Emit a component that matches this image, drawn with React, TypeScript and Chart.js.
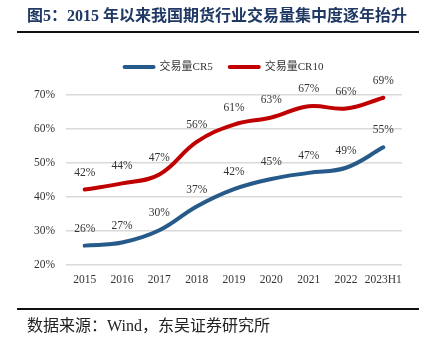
import React, { useEffect, useRef } from "react";
import { Chart, registerables } from "chart.js";

Chart.register(...registerables);

const categories = ["2015", "2016", "2017", "2018", "2019", "2020", "2021", "2022", "2023H1"];
const cr5Values = [25.7, 26.6, 30.2, 37.2, 42.3, 45.3, 47.1, 48.6, 54.6];
const cr10Values = [42.2, 44.0, 46.6, 56.2, 61.3, 63.4, 66.7, 66.0, 69.2];
const seriesNames = ["交易量CR5", "交易量CR10"];
const seriesColors = ["#255A8A", "#C00000"];
const yTicks = [20, 30, 40, 50, 60, 70];

const SERIF = '"Liberation Serif", "Noto Sans CJK SC", serif';

const labelPlugin = {
  id: "valueLabels",
  afterDatasetsDraw(chart: any) {
    const ctx = chart.ctx;
    ctx.save();
    ctx.font = `11.5px ${SERIF}`;
    ctx.fillStyle = "#333333";
    ctx.textAlign = "center";
    ctx.textBaseline = "middle";
    chart.data.datasets.forEach((ds: any, i: number) => {
      const meta = chart.getDatasetMeta(i);
      meta.data.forEach((pt: any, j: number) => {
        ctx.fillText(Math.round(ds.data[j]) + "%", pt.x, pt.y - 17);
      });
    });
    ctx.restore();
  },
  afterDraw(chart: any) {
    // custom legend
    const ctx = chart.ctx;
    ctx.save();
    ctx.font = `11px ${SERIF}`;
    ctx.textBaseline = "middle";
    ctx.textAlign = "left";
    const y = 67;
    const lineW = 33;
    const gap = 4;
    const itemGap = 15;
    const widths = seriesNames.map((n) => lineW + gap + ctx.measureText(n).width);
    const total = widths.reduce((a, b) => a + b, 0) + itemGap * (widths.length - 1);
    let x = 223 - total / 2;
    seriesNames.forEach((n, i) => {
      ctx.strokeStyle = seriesColors[i];
      ctx.lineWidth = 4;
      ctx.lineCap = "round";
      ctx.beginPath();
      ctx.moveTo(x + 2, y);
      ctx.lineTo(x + lineW - 2, y);
      ctx.stroke();
      ctx.fillStyle = "#333333";
      ctx.fillText(n, x + lineW + gap, y);
      x += widths[i] + itemGap;
    });
    ctx.restore();
  },
};

export default function App() {
  const ref = useRef<HTMLCanvasElement>(null);
  useEffect(() => {
    if (!ref.current) return;
    const chart = new Chart(ref.current, {
      type: "line",
      data: {
        labels: categories,
        datasets: [
          {
            label: seriesNames[0],
            data: cr5Values,
            borderColor: seriesColors[0],
            backgroundColor: seriesColors[0],
            borderWidth: 4,
            pointRadius: 0,
            tension: 0.4,
            borderCapStyle: "round",
          },
          {
            label: seriesNames[1],
            data: cr10Values,
            borderColor: seriesColors[1],
            backgroundColor: seriesColors[1],
            borderWidth: 4,
            pointRadius: 0,
            tension: 0.4,
            borderCapStyle: "round",
          },
        ],
      },
      options: {
        animation: false,
        responsive: false,
        maintainAspectRatio: false,
        layout: { padding: { left: 26, right: 27, top: 95, bottom: 53 } },
        plugins: { legend: { display: false }, tooltip: { enabled: false } },
        scales: {
          x: {
            offset: true,
            grid: { display: false, drawTicks: false },
            border: { display: false },
            ticks: {
              padding: 8,
              color: "#333333",
              font: { family: SERIF, size: 11.5 },
              maxRotation: 0,
              autoSkip: false,
            },
            afterFit: (s: any) => {
              s.height = 25;
            },
          },
          y: {
            min: 20,
            max: 70,
            afterBuildTicks: (s: any) => {
              s.ticks = yTicks.map((v) => ({ value: v }));
            },
            grid: { color: "#D9D9D9", lineWidth: 1.5, drawTicks: false },
            border: { display: false },
            ticks: {
              padding: 11,
              color: "#333333",
              font: { family: SERIF, size: 11.5 },
              callback: (v: any) => v + "%",
            },
            afterFit: (s: any) => {
              s.width = 40;
            },
          },
        },
      },
      plugins: [labelPlugin],
    });
    return () => chart.destroy();
  }, []);

  return (
    <div
      style={{
        position: "absolute",
        left: 0,
        top: 0,
        width: 429,
        height: 343,
        background: "#fff",
        overflow: "hidden",
      }}
    >
      <canvas ref={ref} width={429} height={343} style={{ position: "absolute", left: 0, top: 0, width: 429, height: 343 }} />
      <div
        style={{
          position: "absolute",
          left: 27,
          top: 6,
          fontFamily: SERIF,
          fontWeight: "bold",
          fontSize: 16,
          lineHeight: "20px",
          color: "#1F3864",
          whiteSpace: "nowrap",
        }}
      >
        图5：2015 年以来我国期货行业交易量集中度逐年抬升
      </div>
      <div style={{ position: "absolute", left: 17, top: 31, width: 402, height: 2, background: "#111" }} />
      <div style={{ position: "absolute", left: 17, top: 308, width: 402, height: 2, background: "#111" }} />
      <div
        style={{
          position: "absolute",
          left: 27,
          top: 316,
          fontFamily: SERIF,
          fontSize: 16,
          lineHeight: "20px",
          color: "#222",
          whiteSpace: "nowrap",
        }}
      >
        数据来源：Wind，东吴证券研究所
      </div>
    </div>
  );
}
